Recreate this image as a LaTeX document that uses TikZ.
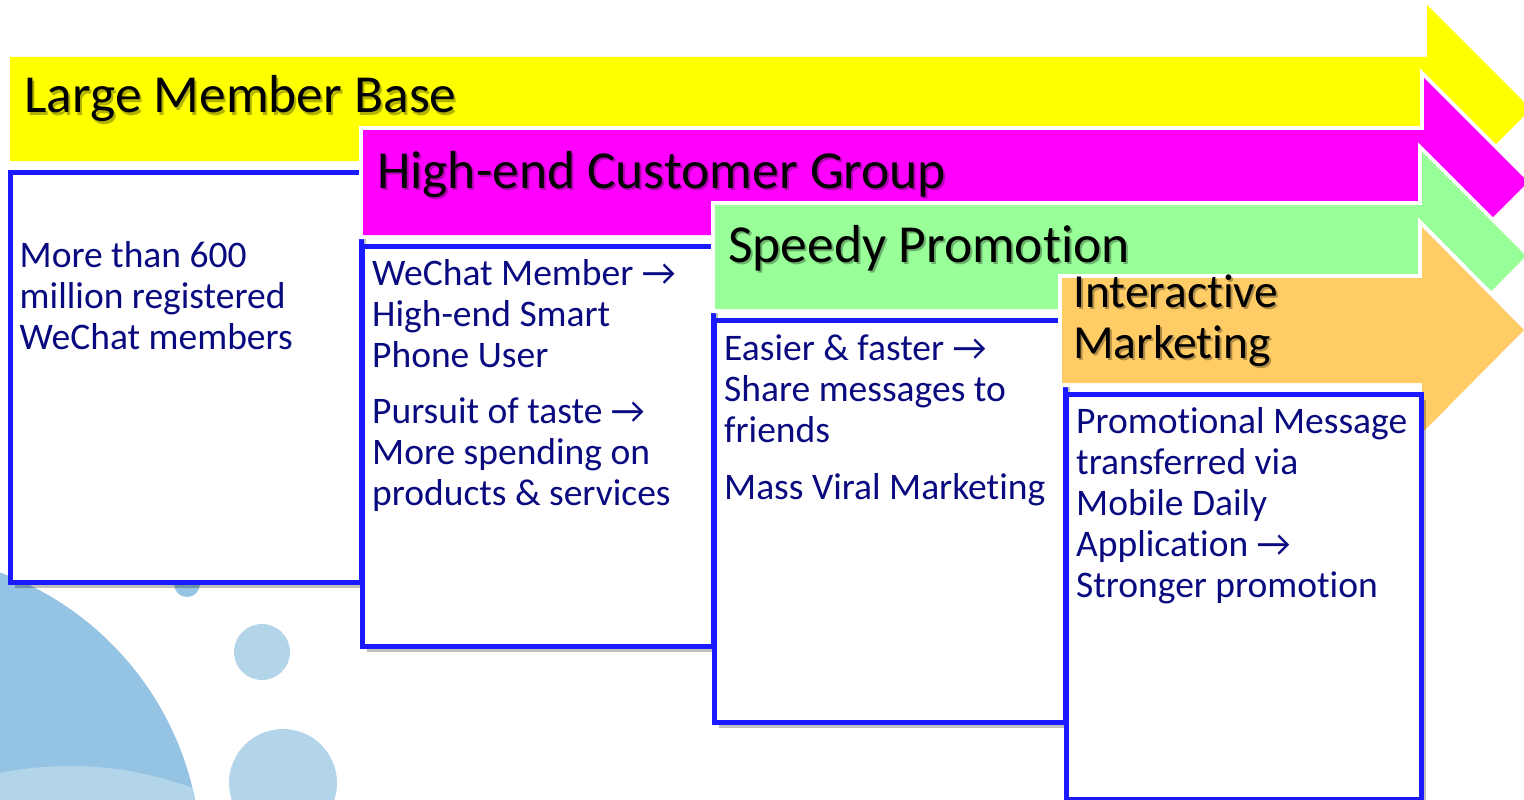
\documentclass[tikz,border=0pt]{standalone}
\usepackage{fontspec}
\setmainfont{Carlito}[Ligatures={NoCommon}]
\usetikzlibrary{shadows}
\definecolor{boxblue}{RGB}{26,26,255}
\definecolor{navytext}{RGB}{10,10,128}
\definecolor{arrYellow}{RGB}{255,255,0}
\definecolor{arrMagenta}{RGB}{255,0,255}
\definecolor{arrGreen}{RGB}{153,255,153}
\definecolor{arrOrange}{RGB}{255,204,102}
\definecolor{bgDark}{RGB}{149,195,227}
\definecolor{bgLight}{RGB}{179,213,234}
\begin{document}
\begin{tikzpicture}[x=1pt,y=-1pt,
  bandarrow/.style={preaction={draw=white, line width=8pt, line join=miter}},
  infobox/.style={draw=boxblue, line width=5pt, fill=white, rectangle, inner sep=0pt,
    anchor=north west,
    drop shadow={shadow xshift=4pt, shadow yshift=-5pt, opacity=0.25, fill=black}},
  titletext/.style={anchor=base west, inner sep=0pt, text=black},
  titleshadow/.style={anchor=base west, inner sep=0pt, text=black, opacity=0.3},
  bigfont/.style={font=\fontsize{53.5}{60}\selectfont},
  twofont/.style={font=\fontsize{47.5}{51}\selectfont},
  bodytext/.style={anchor=base west, inner sep=0pt, text=navytext, font=\fontsize{37.5}{41}\selectfont}
]
\useasboundingbox (0,0) rectangle (1524,800);
\clip (0,0) rectangle (1524,800);
\fill[white] (0,0) rectangle (1524,800);

% background decoration
\fill[bgDark] (-105,860) circle[radius=306];
\begin{scope}
  \clip (-105,860) circle[radius=306];
  \fill[bgLight] (70,1116) circle[radius=350];
\end{scope}
\fill[bgDark] (187,584) circle[radius=13];
\fill[bgLight] (262,652) circle[radius=28];
\fill[bgLight] (283,783) circle[radius=54];

% yellow arrow
\fill[arrYellow, bandarrow] (10,57) -- (1427,57) -- (1427,5) -- (1531,109) -- (1427,213) -- (1427,161) -- (10,161) -- cycle;
\node[titleshadow, bigfont] (t1s) at (26,115) {Large Member Base};
\node[titletext, bigfont] (t1) at (24,113) {Large Member Base};

% box 1
\node[infobox, minimum width=351pt, minimum height=410pt] (box1) at (8,170) {};
\node[bodytext] (b1) at (19.5,267) {\begin{tabular}[t]{@{}l@{}}More than 600\\ million registered\\ WeChat members\end{tabular}};

% magenta arrow
\fill[arrMagenta, bandarrow] (363,130) -- (1424,130) -- (1424,78) -- (1528,182) -- (1424,286) -- (1424,235) -- (363,235) -- cycle;
\node[titleshadow, bigfont] (t2s) at (379,190) {High-end Customer Group};
\node[titletext, bigfont] (t2) at (377,188) {High-end Customer Group};

% box 2
\node[infobox, minimum width=351pt, minimum height=400pt] (box2) at (360,244) {};
\node[bodytext] (b2) at (372,285) {\begin{tabular}[t]{@{}l@{}}WeChat Member →\\ High-end Smart\\ Phone User\\[15pt] Pursuit of taste →\\ More spending on\\ products \& services\end{tabular}};

% green arrow
\fill[arrGreen, bandarrow] (715,205) -- (1422,205) -- (1422,152) -- (1526,256) -- (1422,361) -- (1422,309) -- (715,309) -- cycle;
\node[titleshadow, bigfont] (t3s) at (730,264) {Speedy Promotion};
\node[titletext, bigfont] (t3) at (728,262) {Speedy Promotion};

% box 3
\node[infobox, minimum width=351pt, minimum height=402pt] (box3) at (712,318) {};
\node[bodytext] (b3) at (724,360) {\begin{tabular}[t]{@{}l@{}}Easier \& faster →\\ Share messages to\\ friends\\[16pt] Mass Viral Marketing\end{tabular}};

% orange arrow
\fill[arrOrange, bandarrow] (1062,278) -- (1422,278) -- (1422,227) -- (1524,330) -- (1422,433) -- (1422,383) -- (1062,383) -- cycle;
\node[titleshadow, twofont] (t4s) at (1075,309) {\begin{tabular}[t]{@{}l@{}}Interactive\\ Marketing\end{tabular}};
\node[titletext, twofont] (t4) at (1073,307) {\begin{tabular}[t]{@{}l@{}}Interactive\\ Marketing\end{tabular}};

% box 4
\node[infobox, minimum width=355pt, minimum height=405pt] (box4) at (1064,392) {};
\node[bodytext] (b4) at (1076,433) {\begin{tabular}[t]{@{}l@{}}Promotional Message\\ transferred via\\ Mobile Daily\\ Application →\\ Stronger promotion\end{tabular}};
\end{tikzpicture}
\end{document}
